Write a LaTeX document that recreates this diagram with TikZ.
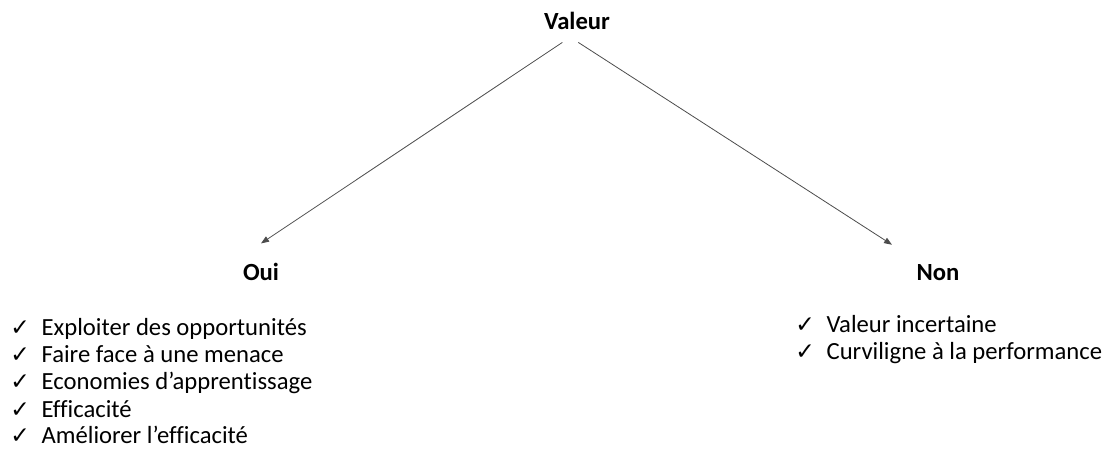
\documentclass[tikz,border=0pt]{standalone}
\usepackage{fontspec}
\setmainfont{Carlito}[Ligatures=NoCommon]
\newfontfamily\ckfont{DejaVu Sans}
\usetikzlibrary{arrows.meta, positioning}

\newcommand{\ck}{\makebox[23.5pt][l]{\fontsize{17.5}{17.5}\ckfont ✓}}

\begin{document}
\begin{tikzpicture}[x=0.75pt, y=-0.75pt,
  head/.style={font=\fontsize{18.5}{22}\selectfont\bfseries, inner sep=0pt},
  item/.style={font=\fontsize{18.5}{22}\selectfont, inner sep=0pt},
  branch/.style={-{Triangle[length=6pt, width=4.5pt]}, line width=0.6pt, black!70}]

  \useasboundingbox (0,0) rectangle (1110,459);

  % Root and the two answers
  \node[head, anchor=base] (valeur) at (577,30) {Valeur};
  \node[head, anchor=base] (oui) at (261,281) {Oui};
  \node[head, anchor=base] (non) at (938,281) {Non};

  % Branches
  \draw[branch] ([xshift=-11pt, yshift=-9pt]valeur.south) -- ([yshift=15pt]oui.north);
  \draw[branch] ([xshift=1pt, yshift=-9pt]valeur.south) -- ([xshift=-34.5pt, yshift=15pt]non.north);

  % Lists
  \foreach \txt [count=\i] in {Exploiter des opportunités, Faire face à une menace,
      Economies d’apprentissage, Efficacité, Améliorer l’efficacité}
    \node[item, anchor=base west] (oui\i) at (10,309+27*\i) {\ck\txt};

  \foreach \txt [count=\i] in {Valeur incertaine, Curviligne à la performance}
    \node[item, anchor=base west] (non\i) at (795,306+27*\i) {\ck\txt};

\end{tikzpicture}
\end{document}
